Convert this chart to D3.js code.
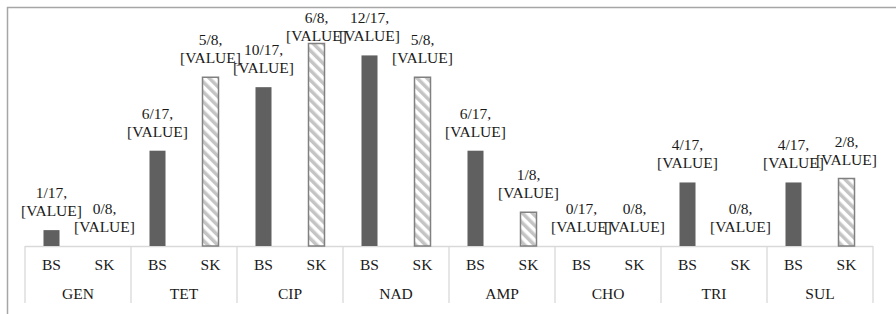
<!DOCTYPE html>
<html>
<head>
<meta charset="utf-8">
<script src="https://cdn.jsdelivr.net/npm/d3@7"></script>
<style>
  body { margin: 0; background: #fff; }
  text { font-family: "Liberation Serif", "Times New Roman", serif; }
</style>
</head>
<body>
<div id="chart"></div>
<script>
// antibiotic groups and the two sample series
var groups = ['GEN', 'TET', 'CIP', 'NAD', 'AMP', 'CHO', 'TRI', 'SUL'];
var series = ['BS', 'SK'];
var bsCount = [1, 6, 10, 12, 6, 0, 4, 4];
var bsTotal = 17;
var skCount = [0, 5, 6, 5, 1, 0, 0, 2];
var skTotal = 8;

var width = 896, height = 314;
var baseY = 246;
var fs = 15.5;

var rows = [];
groups.forEach(function (g, i) {
  rows.push({ group: g, series: 'BS', n: bsCount[i], total: bsTotal, v: bsCount[i] / bsTotal });
  rows.push({ group: g, series: 'SK', n: skCount[i], total: skTotal, v: skCount[i] / skTotal });
});

var svg = d3.select('#chart').append('svg')
  .attr('width', width)
  .attr('height', height);

var defs = svg.append('defs');
var pat = defs.append('pattern')
  .attr('id', 'stripes')
  .attr('patternUnits', 'userSpaceOnUse')
  .attr('width', 7)
  .attr('height', 7)
  .attr('patternTransform', 'rotate(-45)');
pat.append('rect').attr('width', 7).attr('height', 7).attr('fill', '#fff');
pat.append('rect').attr('width', 3.5).attr('height', 7).attr('fill', '#c4c4c4');

// chart frame (cropped at right and bottom)
svg.append('path')
  .attr('d', 'M7.5,' + height + 'V7.5H' + width)
  .attr('fill', 'none')
  .attr('stroke', '#a6a6a6')
  .attr('stroke-width', 1.5);

var x0 = d3.scaleBand().domain(groups).range([25, 873]);
var x1 = d3.scaleBand().domain(series).range([0, x0.bandwidth()])
  .paddingInner(0.698).paddingOuter(0.349);
var y = d3.scaleLinear().domain([0, 0.8]).range([baseY, 30]);

// category axis box
var axis = svg.append('g').attr('stroke', '#d9d9d9').attr('stroke-width', 1.3);
axis.append('line')
  .attr('x1', x0.range()[0]).attr('x2', x0.range()[1])
  .attr('y1', baseY + 0.5).attr('y2', baseY + 0.5);
axis.selectAll('line.div')
  .data(groups.concat(['end']))
  .enter().append('line')
  .attr('class', 'div')
  .attr('x1', function (d) { return d === 'end' ? x0.range()[1] : x0(d); })
  .attr('x2', function (d) { return d === 'end' ? x0.range()[1] : x0(d); })
  .attr('y1', baseY)
  .attr('y2', 303);

svg.selectAll('text.ser')
  .data(rows)
  .enter().append('text')
  .attr('class', 'ser')
  .attr('x', function (d) { return x0(d.group) + x1(d.series) + x1.bandwidth() / 2; })
  .attr('y', 270)
  .attr('text-anchor', 'middle')
  .attr('font-size', fs)
  .attr('fill', '#1a1a1a')
  .text(function (d) { return d.series; });

svg.selectAll('text.grp')
  .data(groups)
  .enter().append('text')
  .attr('class', 'grp')
  .attr('x', function (d) { return x0(d) + x0.bandwidth() / 2; })
  .attr('y', 299)
  .attr('text-anchor', 'middle')
  .attr('font-size', fs)
  .attr('fill', '#1a1a1a')
  .text(function (d) { return d; });

// bars
svg.selectAll('rect.bar')
  .data(rows.filter(function (d) { return d.v > 0; }))
  .enter().append('rect')
  .attr('class', 'bar')
  .attr('x', function (d) { return x0(d.group) + x1(d.series); })
  .attr('width', x1.bandwidth())
  .attr('y', function (d) { return y(d.v); })
  .attr('height', function (d) { return baseY - y(d.v); })
  .attr('fill', function (d) { return d.series === 'BS' ? '#606060' : 'url(#stripes)'; })
  .attr('stroke', function (d) { return d.series === 'BS' ? 'none' : '#808080'; })
  .attr('stroke-width', 1.5);

// data labels
var lab = svg.selectAll('g.lab')
  .data(rows)
  .enter().append('g')
  .attr('class', 'lab')
  .attr('transform', function (d) {
    var cx = x0(d.group) + x1(d.series) + x1.bandwidth() / 2;
    var yb = Math.max(y(d.v) - 14, 41);
    return 'translate(' + cx + ',' + yb + ')';
  });
lab.append('text')
  .attr('text-anchor', 'middle')
  .attr('font-size', fs)
  .attr('fill', '#1a1a1a')
  .attr('y', -18)
  .text(function (d) { return d.n + '/' + d.total + ','; });
lab.append('text')
  .attr('text-anchor', 'middle')
  .attr('font-size', fs)
  .attr('fill', '#1a1a1a')
  .text('[VALUE]');
</script>
</body>
</html>
